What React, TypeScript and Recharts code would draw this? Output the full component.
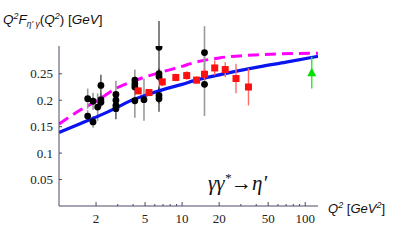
import React from 'react';
import { ComposedChart, XAxis, YAxis, Line, Scatter, ErrorBar, Customized } from 'recharts';

// Theory curves
const blueQ2 = [1, 1.5, 2, 3, 3.5, 5, 7, 10, 12.5, 20, 42, 70, 127];
const blueF = [0.139, 0.156, 0.168, 0.187, 0.195, 0.209, 0.22, 0.23, 0.237, 0.248, 0.263, 0.272, 0.283];
const magQ2 = [1, 1.5, 2, 3, 4, 5, 7, 10, 12.5, 20, 42, 127];
const magF = [0.155, 0.182, 0.198, 0.224, 0.236, 0.244, 0.254, 0.264, 0.271, 0.28, 0.286, 0.289];

// Black data, grey error bars
const greyQ2 = [1.71, 1.71, 1.89, 1.89, 2.06, 2.19, 2.19, 2.9, 2.9, 2.9, 4.13, 4.13, 4.13, 4.13, 4.9, 15.2, 15.2];
const greyF = [0.203, 0.17, 0.198, 0.159, 0.187, 0.201, 0.196, 0.211, 0.2, 0.19, 0.238, 0.231, 0.225, 0.199, 0.201, 0.29, 0.23];
const greyErr = [0.019, 0.011, 0.016, 0.011, 0.026, 0.012, 0.01, 0.026, 0.01, 0.01, 0.02, 0.015, 0.015, 0.032, 0.04, 0.05, 0.06];

// Black data, dark error bars
const darkQ2 = [2.19, 2.9, 6.49, 6.49, 6.49, 6.49, 6.49];
const darkF = [0.228, 0.184, 0.3, 0.25, 0.245, 0.209, 0.203];
const darkErr = [0.02, 0.02, 0.05, 0.01, 0.01, 0.015, 0.025];

// Red squares
const redQ2 = [4.4, 5.38, 6.9, 8.89, 10.9, 13.1, 15.2, 18.4, 22.4, 27.4, 34.6];
const redF = [0.2176, 0.2145, 0.2346, 0.243, 0.2466, 0.238, 0.249, 0.261, 0.258, 0.241, 0.225];
const redErr = [0.006, 0.006, 0.008, 0.007, 0.008, 0.0075, 0.01, 0.014, 0.014, 0.028, 0.035];

// Green triangle
const greenQ2 = [113];
const greenF = [0.252];
const greenErr = [0.03];

const xTicks = [2, 3, 4, 5, 6, 7, 8, 9, 10, 20, 30, 40, 50, 60, 70, 80, 90, 100];
const xLabels = [2, 5, 10, 20, 50, 100];
const yTicks = [0.05, 0.1, 0.15, 0.2, 0.25];

const zip = (xs: number[], ys: number[], es?: number[]) =>
  xs.map((x, i) => ({ x, y: ys[i], err: es ? es[i] : 0 }));

const blueData = zip(blueQ2, blueF);
const magData = zip(magQ2, magF);
const greyData = zip(greyQ2, greyF, greyErr);
const darkData = zip(darkQ2, darkF, darkErr);
const redData = zip(redQ2, redF, redErr);
const greenData = zip(greenQ2, greenF, greenErr);

const AXIS = '#4a4a66';
const FRAME = '#a6a6dc';
const SERIF = '"Liberation Serif", "DejaVu Serif", serif';
const SANS = '"Liberation Sans", Arial, sans-serif';

const XTick = (props: any) => {
  const { x, y, payload } = props;
  const major = xLabels.includes(payload.value);
  return (
    <g>
      <line x1={x} x2={x} y1={y} y2={y - (major ? 4 : 2)} stroke={AXIS} strokeWidth={1} />
      {major && (
        <text x={x} y={y + 17} textAnchor="middle" fontFamily={SERIF} fontSize={13} fill="#222">
          {payload.value}
        </text>
      )}
    </g>
  );
};

const YTick = (props: any) => {
  const { x, y, payload } = props;
  return (
    <g>
      <line x1={x} x2={x + 3} y1={y} y2={y} stroke={AXIS} strokeWidth={1} />
      <text x={x - 6} y={y} dy="0.35em" textAnchor="end" fontFamily={SERIF} fontSize={13} fill="#222">
        {String(payload.value)}
      </text>
    </g>
  );
};

const Dot = (props: any) => <circle cx={props.cx} cy={props.cy} r={3.4} fill="#000" />;
const Sq = (props: any) => <rect x={props.cx - 3.5} y={props.cy - 3.5} width={7} height={7} fill="#ff1010" />;
const Tri = (props: any) => (
  <polygon
    points={`${props.cx},${props.cy - 5} ${props.cx - 4.5},${props.cy + 3.5} ${props.cx + 4.5},${props.cy + 3.5}`}
    fill="#00e000"
  />
);

const Texts = () => (
  <g>
    <text x={3} y={24} fontFamily={SANS} fontSize={13.5} fontStyle="italic" fill="#111">
      Q<tspan dy={-5} fontSize={9}>2</tspan>
      <tspan dy={5}>F</tspan>
      <tspan dy={3} fontSize={8.5}>η' γ</tspan>
      <tspan dy={-3} fontStyle="normal">(</tspan>
      <tspan>Q</tspan>
      <tspan dy={-5} fontSize={9}>2</tspan>
      <tspan dy={5} fontStyle="normal">) [</tspan>
      <tspan>GeV</tspan>
      <tspan fontStyle="normal">]</tspan>
    </text>
    <text x={328} y={213} fontFamily={SANS} fontSize={13} fontStyle="italic" fill="#111">
      Q<tspan dy={-5} fontSize={9}>2</tspan>
      <tspan dy={5} fontStyle="normal"> [</tspan>
      <tspan>GeV</tspan>
      <tspan dy={-5} fontSize={9}>2</tspan>
      <tspan dy={5} fontStyle="normal">]</tspan>
    </text>
    <text x={208} y={190} fontFamily={SERIF} fontSize={21} fontStyle="italic" fill="#111">
      γγ<tspan dy={-8} fontSize={13}>*</tspan>
      <tspan dy={8} fontStyle="normal">→</tspan>η'
    </text>
  </g>
);

export default function App() {
  return (
    <div style={{ position: 'absolute', left: 0, top: 0, width: 395, height: 244, background: '#fff' }}>
      <ComposedChart width={395} height={244} margin={{ top: 46, right: 77, bottom: 0, left: 0 }}>
        <XAxis
          dataKey="x"
          type="number"
          scale="log"
          domain={[1, 127]}
          allowDataOverflow
          ticks={xTicks}
          interval={0}
          tick={<XTick />}
          tickLine={false}
          tickSize={0}
          tickMargin={0}
          height={38}
          axisLine={{ stroke: AXIS, strokeWidth: 1 }}
        />
        <XAxis
          xAxisId="top"
          orientation="top"
          dataKey="x"
          type="number"
          scale="log"
          domain={[1, 127]}
          allowDataOverflow
          tick={false}
          tickLine={false}
          height={0}
          axisLine={{ stroke: FRAME, strokeWidth: 1.2 }}
        />
        <YAxis
          type="number"
          domain={[0, 0.3025]}
          allowDataOverflow
          ticks={yTicks}
          interval={0}
          tick={<YTick />}
          tickLine={false}
          tickSize={0}
          tickMargin={0}
          width={59}
          axisLine={{ stroke: AXIS, strokeWidth: 1 }}
        />
        <YAxis
          yAxisId="right"
          orientation="right"
          type="number"
          domain={[0, 0.3025]}
          tick={false}
          tickLine={false}
          width={0}
          axisLine={{ stroke: FRAME, strokeWidth: 1.2 }}
        />
        <Line data={magData} dataKey="y" type="monotone" stroke="#ff00ff" strokeWidth={3} strokeDasharray="11 6" dot={false} isAnimationActive={false} />
        <Scatter data={greyData} dataKey="y" shape={<Dot />} isAnimationActive={false}>
          <ErrorBar dataKey="err" direction="y" width={0} stroke="#9a9a9a" strokeWidth={1.6} />
        </Scatter>
        <Scatter data={darkData} dataKey="y" shape={<Dot />} isAnimationActive={false}>
          <ErrorBar dataKey="err" direction="y" width={0} stroke="#333" strokeWidth={1.2} />
        </Scatter>
        <Line data={blueData} dataKey="y" type="monotone" stroke="#0a14f0" strokeWidth={3.2} dot={false} isAnimationActive={false} />
        <Scatter data={redData} dataKey="y" shape={<Sq />} isAnimationActive={false}>
          <ErrorBar dataKey="err" direction="y" width={0} stroke="#ff6a6a" strokeWidth={1.4} />
        </Scatter>
        <Scatter data={greenData} dataKey="y" shape={<Tri />} isAnimationActive={false}>
          <ErrorBar dataKey="err" direction="y" width={0} stroke="#22ee22" strokeWidth={1.4} />
        </Scatter>
        <Customized component={Texts} />
      </ComposedChart>
    </div>
  );
}
